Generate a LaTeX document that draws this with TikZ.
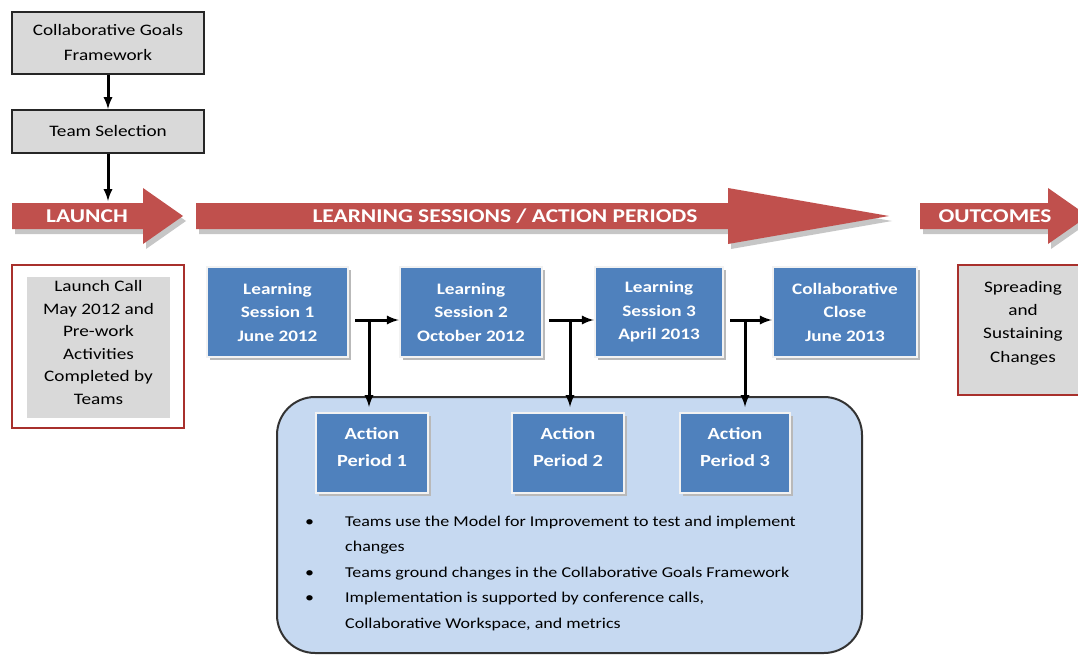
\documentclass[tikz,border=0pt]{standalone}
\usepackage{fontspec}
\setmainfont{Carlito}[FakeStretch=1.2]
\usepackage{tikz}
\usetikzlibrary{arrows,shadows,positioning}
\definecolor{phasered}{HTML}{C0504D}
\definecolor{framered}{HTML}{A8302C}
\definecolor{stepblue}{HTML}{4F81BD}
\definecolor{panelblue}{HTML}{C6D9F1}
\definecolor{boxgray}{HTML}{D9D9D9}

\tikzset{
  graybox/.style={draw=black!85, line width=2pt, fill=boxgray, align=center, inner sep=0pt,
    font=\fontsize{16}{25}\selectfont},
  framebox/.style={draw=framered, line width=2.5pt, inner sep=0pt},
  bluebox/.style={fill=stepblue, draw=white!90!gray, line width=2.5pt, text=white, align=center,
    inner sep=0pt, font=\bfseries\fontsize{16}{23.5}\selectfont,
    drop shadow={shadow xshift=2.5pt, shadow yshift=-2.5pt, fill=gray!55, opacity=1}},
  actionbox/.style={bluebox, minimum height=80pt, outer sep=6pt, text depth=11pt,
    font=\bfseries\fontsize{17}{27}\selectfont},
  phaselabel/.style={text=white, inner sep=0pt, font=\bfseries\fontsize{19.5}{24}\selectfont},
  conn/.style={-latex, line width=3pt},
}

% red phase banner: #1 = start, #2 = start of head, #3 = tip
\newcommand{\phasearrow}[3]{%
  \fill[gray!45] (#1+3,208) -- (#2+3,208) -- (#2+3,193) -- (#3+3,221) -- (#2+3,249)
    -- (#2+3,234) -- (#1+3,234) -- cycle;
  \fill[phasered] (#1,203) -- (#2,203) -- (#2,188) -- (#3,216) -- (#2,244)
    -- (#2,229) -- (#1,229) -- cycle;}

\begin{document}
\begin{tikzpicture}[x=1pt,y=-1pt]
  \useasboundingbox (0,0) rectangle (1078,655);
  \clip (0,0) rectangle (1078,655);

  %Banners
  \phasearrow{12}{143}{183}
  \phasearrow{196}{728}{889}
  \phasearrow{920}{1048}{1088}
  \node[phaselabel] (launch) at (87,216) {LAUNCH};
  \node[phaselabel] (sessions) at (505,216) {LEARNING SESSIONS / ACTION PERIODS};
  \node[phaselabel] (outcomes) at (995,216) {OUTCOMES};

  %Preparation
  \node[graybox, minimum width=192pt, minimum height=62pt] (goals) at (108,43)
    {Collaborative Goals\\Framework};
  \node[graybox, minimum width=192pt, minimum height=43pt] (team) at (108,131.5)
    {Team Selection};
  \coordinate (launchtop) at (108,201);
  \draw[conn] (goals) -- (team);
  \draw[conn] (team) -- (launchtop);

  %Launch and outcome boxes
  \node[framebox, fill=white, minimum width=172pt, minimum height=163pt] (launchframe) at (98,346.5) {};
  \node[graybox, draw=none, minimum width=143pt, minimum height=141pt, text depth=10pt,
    font=\fontsize{16}{22.6}\selectfont] (launchcall) at (98.5,347.5)
    {Launch Call\\May 2012 and\\Pre-work\\Activities\\Completed by\\Teams};
  \node[framebox, fill=boxgray, minimum width=132pt, minimum height=130pt] (spreadframe) at (1024,330) {};
  \node[align=center, inner sep=0pt, font=\fontsize{16}{23.3}\selectfont] (spreading) at (1023,323)
    {Spreading\\and\\Sustaining\\Changes};

  %Learning sessions
  \node[bluebox, minimum width=141pt, minimum height=90pt] (ls1) at (277.5,312)
    {Learning\\Session 1\\June 2012};
  \node[bluebox, minimum width=142pt, minimum height=90pt] (ls2) at (471,312)
    {Learning\\Session 2\\October 2012};
  \node[bluebox, minimum width=128pt, minimum height=90pt] (ls3) at (659,312)
    {Learning\\Session 3\\April 2013};
  \node[bluebox, minimum width=144pt, minimum height=90pt] (close) at (845,312)
    {Collaborative\\Close\\June 2013};

  %Action periods
  \node[draw=black!80, line width=2pt, fill=panelblue, rounded corners=38pt,
    minimum width=585pt, minimum height=256pt] (panel) at (569.5,525) {};
  \node[actionbox, minimum width=112pt] (ap1) at (372,453) {Action\\Period 1};
  \node[actionbox, minimum width=112pt] (ap2) at (568,453) {Action\\Period 2};
  \node[actionbox, minimum width=110pt] (ap3) at (735,453) {Action\\Period 3};
  \node[anchor=north west, inner sep=0pt, font=\fontsize{15}{25.5}\selectfont] (notes) at (305,508) {%
    \begin{tabular}{@{}p{40pt}@{}l@{}}
      \textbullet & Teams use the Model for Improvement to test and implement\\
                  & changes\\
      \textbullet & Teams ground changes in the Collaborative Goals Framework\\
      \textbullet & Implementation is supported by conference calls,\\
                  & Collaborative Workspace, and metrics
    \end{tabular}};

  %Connectors
  \draw[conn, shorten <=6pt] ([yshift=-8pt]ls1.east) -- ([yshift=-8pt]ls2.west);
  \draw[conn, shorten <=6pt] ([yshift=-8pt]ls2.east) -- ([yshift=-8pt]ls3.west);
  \draw[conn, shorten <=6pt] ([yshift=-8pt]ls3.east) -- ([yshift=-8pt]close.west);
  \coordinate (j1) at (369,320);
  \coordinate (j2) at (570,320);
  \coordinate (j3) at (745,320);
  \draw[conn] (j1) -- (j1 |- ap1.north);
  \draw[conn] (j2) -- (j2 |- ap2.north);
  \draw[conn] (j3) -- (j3 |- ap3.north);
\end{tikzpicture}
\end{document}
